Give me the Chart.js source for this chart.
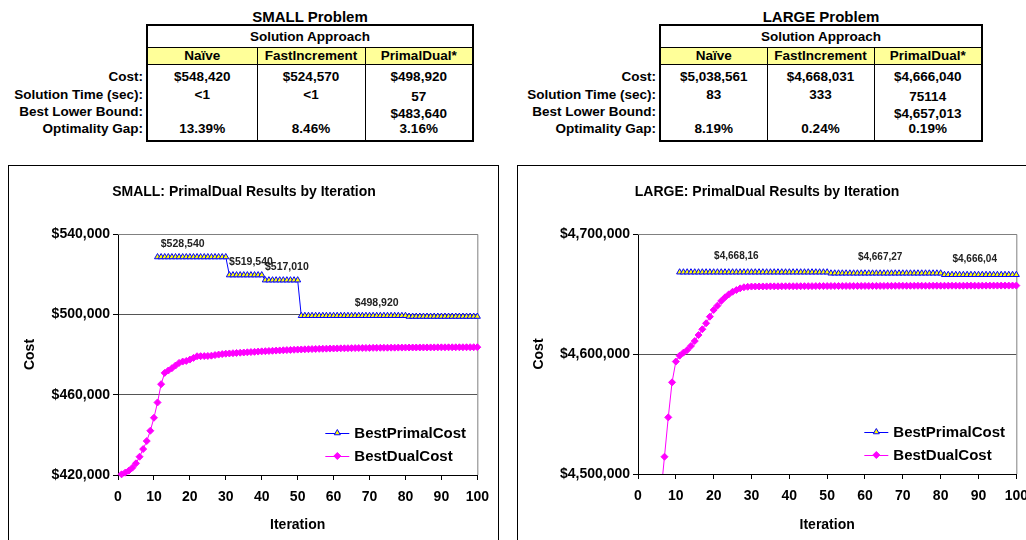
<!DOCTYPE html>
<html>
<head>
<meta charset="utf-8">
<script src="https://cdn.jsdelivr.net/npm/chart.js@4.4.1/dist/chart.umd.min.js"></script>
<style>
  html, body { margin: 0; padding: 0; background: #fff; overflow: hidden; }
  body { width: 1026px; height: 540px; position: relative; font-family: "Liberation Sans", Arial, sans-serif; color: #000; }
  .ttl { position: absolute; top: 8px; font-weight: bold; font-size: 15px; line-height: 18px; text-align: center; }
  table.ptab { position: absolute; top: 24px; border-collapse: collapse; table-layout: fixed; font-weight: bold; font-size: 13.5px; }
  table.ptab td { padding: 0; text-align: center; line-height: 16px; white-space: nowrap; }
  table.ptab td.lbl { text-align: right; padding-right: 3px; }
  table.ptab td.c { border-left: 1px solid #000; border-right: 1px solid #000; }
  table.ptab td.c1 { border-left: 2px solid #000; }
  table.ptab td.c3 { border-right: 2px solid #000; }
  table.ptab tr.appr td { height: 21px; }
  table.ptab tr.appr td.c { border-top: 2px solid #000; border-bottom: 1px solid #000; }
  table.ptab tr.hdr td { height: 16px; }
  table.ptab tr.hdr td.c { background: #ffff99; border-bottom: 1px solid #000; }
  table.ptab tr.r0 td { height: 20px; vertical-align: bottom; padding-bottom: 1px; }
  table.ptab tr.r1 td, table.ptab tr.r2 td { height: 17px; }
  table.ptab tr.r3 td { height: 19px; vertical-align: top; padding-top: 1px; }
  table.ptab tr.r3 td.c { border-bottom: 2px solid #000; }
  table.ptab span.dn { position: relative; top: 2px; }
  .frame { position: absolute; top: 165px; height: 400px; border: 1.5px solid #000; box-sizing: border-box; }
  canvas { position: absolute; top: 165px; }
</style>
</head>
<body>
<div class="ttl" style="left:147px;width:326px">SMALL Problem</div>
<div class="ttl" style="left:660px;width:322px">LARGE Problem</div>
<div id="tabSmall"></div>
<div id="tabLarge"></div>
<div class="frame" style="left:8px;width:491px"></div>
<div class="frame" style="left:517px;width:540px"></div>
<canvas id="cSmall" width="490" height="375" style="left:8px"></canvas>
<canvas id="cLarge" width="520" height="375" style="left:517px"></canvas>
<script>
/* ---- summary tables ---- */
const APPROACHES = ["Naïve", "FastIncrement", "PrimalDual*"];
const ROW_LABELS = ["Cost:", "Solution Time (sec):", "Best Lower Bound:", "Optimality Gap:"];
const SMALL_TABLE = [
  ["$548,420", "$524,570", "$498,920"],
  ["<1", "<1", "57"],
  ["", "", "$483,640"],
  ["13.39%", "8.46%", "3.16%"],
];
const LARGE_TABLE = [
  ["$5,038,561", "$4,668,031", "$4,666,040"],
  ["83", "333", "75114"],
  ["", "", "$4,657,013"],
  ["8.19%", "0.24%", "0.19%"],
];

/* ---- iteration charts ---- */
const ITER = [
  1, 2, 3, 4, 5, 6, 7, 8, 9, 10, 11, 12, 13, 14, 15, 16, 17, 18, 19, 20,
  21, 22, 23, 24, 25, 26, 27, 28, 29, 30, 31, 32, 33, 34, 35, 36, 37, 38, 39, 40,
  41, 42, 43, 44, 45, 46, 47, 48, 49, 50, 51, 52, 53, 54, 55, 56, 57, 58, 59, 60,
  61, 62, 63, 64, 65, 66, 67, 68, 69, 70, 71, 72, 73, 74, 75, 76, 77, 78, 79, 80,
  81, 82, 83, 84, 85, 86, 87, 88, 89, 90, 91, 92, 93, 94, 95, 96, 97, 98, 99, 100,
];
const SMALL_PRIMAL = [
  null, null, null, null, null, null, null, null, null, null,
  528540, 528540, 528540, 528540, 528540, 528540, 528540, 528540, 528540, 528540,
  528540, 528540, 528540, 528540, 528540, 528540, 528540, 528540, 528540, 528540,
  519540, 519540, 519540, 519540, 519540, 519540, 519540, 519540, 519540, 519540,
  517010, 517010, 517010, 517010, 517010, 517010, 517010, 517010, 517010, 517010,
  499300, 499300, 499300, 499300, 499300, 499300, 499300, 499300, 499300, 499300,
  499300, 499300, 499300, 499300, 499300, 499300, 499300, 499300, 499300, 499300,
  499300, 499300, 499300, 499300, 499300, 499300, 499300, 499300, 499300, 499300,
  498920, 498920, 498920, 498920, 498920, 498920, 498920, 498920, 498920, 498920,
  498920, 498920, 498920, 498920, 498920, 498920, 498920, 498920, 498920, 498920,
];
const SMALL_DUAL = [
  420330, 421160, 422150, 423640, 425800, 429100, 432900, 436900, 442030, 448490,
  456110, 465220, 470850, 472010, 473170, 474490, 475820, 476480, 476810, 477470,
  478300, 479130, 479170, 479200, 479260, 479420, 479700, 479960, 480200, 480400,
  480520, 480640, 480760, 480880, 480990, 481100, 481220, 481330, 481450, 481560,
  481660, 481750, 481850, 481940, 482030, 482110, 482200, 482280, 482360, 482440,
  482510, 482580, 482640, 482700, 482760, 482810, 482860, 482910, 482950, 482990,
  483030, 483070, 483100, 483130, 483160, 483190, 483220, 483240, 483260, 483280,
  483300, 483320, 483340, 483360, 483380, 483395, 483410, 483425, 483440, 483455,
  483470, 483480, 483490, 483500, 483510, 483520, 483530, 483540, 483550, 483560,
  483570, 483575, 483580, 483590, 483600, 483605, 483615, 483625, 483630, 483640,
];
const SMALL_LABEL_ITER = [18, 37, 47, 72];
const SMALL_LABEL_TEXT = ["$528,540", "$519,540", "$517,010", "$498,920"];

const LARGE_PRIMAL = [
  null, null, null, null, null, null, null, null, null, null,
  4668160, 4668160, 4668160, 4668160, 4668160, 4668160, 4668160, 4668160, 4668160, 4668160,
  4668160, 4668160, 4668160, 4668160, 4668160, 4668160, 4668160, 4668160, 4668160, 4668160,
  4668160, 4668160, 4668160, 4668160, 4668160, 4668160, 4668160, 4668160, 4668160, 4668160,
  4668160, 4668160, 4668160, 4668160, 4668160, 4668160, 4668160, 4668160, 4668160, 4668160,
  4667270, 4667270, 4667270, 4667270, 4667270, 4667270, 4667270, 4667270, 4667270, 4667270,
  4667270, 4667270, 4667270, 4667270, 4667270, 4667270, 4667270, 4667270, 4667270, 4667270,
  4667270, 4667270, 4667270, 4667270, 4667270, 4667270, 4667270, 4667270, 4667270, 4667270,
  4666040, 4666040, 4666040, 4666040, 4666040, 4666040, 4666040, 4666040, 4666040, 4666040,
  4666040, 4666040, 4666040, 4666040, 4666040, 4666040, 4666040, 4666040, 4666040, 4666040,
];
const LARGE_DUAL = [
  null, null, null, null, null, 4482000, 4514400, 4547200, 4576400, 4593700,
  4598600, 4601100, 4603300, 4606700, 4610800, 4615800, 4620600, 4625600, 4631100, 4636700,
  4640300, 4644200, 4647200, 4649700, 4651900, 4653300, 4654700, 4655600, 4656000, 4656200,
  4656250, 4656280, 4656310, 4656330, 4656360, 4656380, 4656400, 4656420, 4656440, 4656460,
  4656480, 4656500, 4656510, 4656530, 4656540, 4656560, 4656570, 4656590, 4656600, 4656610,
  4656630, 4656640, 4656650, 4656660, 4656670, 4656680, 4656690, 4656700, 4656710, 4656720,
  4656730, 4656740, 4656750, 4656760, 4656770, 4656780, 4656790, 4656800, 4656810, 4656820,
  4656830, 4656840, 4656845, 4656850, 4656860, 4656870, 4656875, 4656880, 4656890, 4656900,
  4656910, 4656915, 4656920, 4656930, 4656935, 4656940, 4656950, 4656955, 4656960, 4656965,
  4656970, 4656975, 4656980, 4656985, 4656990, 4656995, 4657000, 4657005, 4657010, 4657013,
];
const LARGE_LABEL_ITER = [26, 64, 89];
const LARGE_LABEL_TEXT = ["$4,668,16", "$4,667,27", "$4,666,04"];

/* ---- tables ---- */
const esc = s => s.replace(/&/g, "&amp;").replace(/</g, "&lt;");
function buildTable(host, left, widths, vals) {
  let h = `<table class="ptab" style="left:${left}px"><colgroup>` +
    widths.map(w => `<col style="width:${w}px">`).join("") + `</colgroup>`;
  h += `<tr class="appr"><td></td><td class="c c1 c3" colspan="3">Solution Approach</td></tr>`;
  h += `<tr class="hdr"><td></td>` +
    APPROACHES.map((a, i) => `<td class="c c${i + 1}">${esc(a)}</td>`).join("") + `</tr>`;
  ROW_LABELS.forEach((lab, r) => {
    h += `<tr class="r${r}"><td class="lbl">${esc(lab)}</td>` +
      vals[r].map((v, i) => {
        // PrimalDual time + bound sit a little low in the original sheet
        const t = (i === 2 && (r === 1 || r === 2)) ? `<span class="dn">${esc(v)}</span>` : esc(v);
        return `<td class="c c${i + 1}">${t}</td>`;
      }).join("") + `</tr>`;
  });
  host.innerHTML = h + `</table>`;
}
buildTable(document.getElementById("tabSmall"), 0, [147, 110, 108, 108], SMALL_TABLE);
buildTable(document.getElementById("tabLarge"), 500, [160, 107, 107, 108], LARGE_TABLE);

/* ---- chart plugins ---- */
const plotFrame = {
  id: "plotFrame",
  beforeDatasetsDraw(chart) {
    const { ctx, chartArea: a } = chart;
    ctx.save();
    ctx.strokeStyle = "#808080"; ctx.lineWidth = 1;
    ctx.beginPath();
    ctx.moveTo(a.left, a.top + 0.5); ctx.lineTo(a.right + 0.5, a.top + 0.5); ctx.lineTo(a.right + 0.5, a.bottom);
    ctx.stroke();
    ctx.restore();
  },
};
const pointLabels = {
  id: "pointLabels",
  afterDatasetsDraw(chart, args, o) {
    const { ctx, scales: { x, y } } = chart;
    const vals = chart.data.datasets[0].data;
    ctx.save();
    ctx.font = `bold ${o.size}px "Liberation Sans", Arial, sans-serif`;
    ctx.fillStyle = "#222"; ctx.textAlign = "center"; ctx.textBaseline = "middle";
    o.iters.forEach((it, i) => {
      const p = vals[it - 1];
      ctx.fillText(o.texts[i], x.getPixelForValue(p.x), y.getPixelForValue(p.y) - o.offset);
    });
    ctx.restore();
  },
};
const sampleLegend = {
  id: "sampleLegend",
  afterDraw(chart) {
    const { ctx, chartArea: a } = chart;
    ctx.save();
    chart.data.datasets.forEach((ds, i) => {
      const y = a.bottom - 42 + i * 23, x0 = a.right - 152;
      ctx.strokeStyle = ds.borderColor; ctx.lineWidth = 1;
      ctx.beginPath(); ctx.moveTo(x0, y + 0.5); ctx.lineTo(x0 + 24, y + 0.5); ctx.stroke();
      ctx.fillStyle = ds.pointBackgroundColor; ctx.strokeStyle = ds.pointBorderColor;
      Chart.helpers.drawPoint(ctx, { pointStyle: ds.pointStyle, radius: ds.pointRadius, rotation: 0, borderWidth: 1 }, x0 + 12, y);
      ctx.fillStyle = "#000";
      ctx.font = `bold 15px "Liberation Sans", Arial, sans-serif`;
      ctx.textAlign = "left"; ctx.textBaseline = "middle";
      ctx.fillText(ds.label, x0 + 29, y + 1);
    });
    ctx.restore();
  },
};

Chart.defaults.font.family = '"Liberation Sans", Arial, sans-serif';
Chart.defaults.color = "#000";

function iterChart(canvas, c) {
  const money = v => "$" + v.toLocaleString("en-US");
  return new Chart(canvas, {
    type: "line",
    data: {
      datasets: [
        { label: "BestPrimalCost", data: ITER.map((it, i) => ({ x: it, y: c.primal[i] })),
          borderColor: "#0000ff", borderWidth: 1, pointStyle: "triangle", pointRadius: 3.5,
          pointBackgroundColor: "#ffff00", pointBorderColor: "#0000ff", pointBorderWidth: 1,
          tension: 0, clip: { left: 5, top: 5, right: 6, bottom: c.clipBottom } },
        { label: "BestDualCost", data: ITER.map((it, i) => ({ x: it, y: c.dual[i] })),
          borderColor: "#ff00ff", borderWidth: 1, pointStyle: "rectRot", pointRadius: 3.5,
          pointBackgroundColor: "#ff00ff", pointBorderColor: "#ff00ff", pointBorderWidth: 1,
          tension: 0, clip: { left: 5, top: 5, right: 6, bottom: c.clipBottom } },
      ],
    },
    options: {
      responsive: false, animation: false,
      layout: { padding: { left: 0, right: c.padRight, top: 0, bottom: 0 } },
      plugins: {
        legend: { display: false }, tooltip: { enabled: false },
        title: { display: true, text: c.title, color: "#000", font: { size: 14, weight: "bold" },
                 padding: { top: 19, bottom: 33.2 } },
        pointLabels: { iters: c.labelIter, texts: c.labelText, size: c.labelSize, offset: c.labelOffset },
      },
      scales: {
        x: {
          type: "linear", min: 0, max: 100,
          afterFit: s => { s.height = c.xHeight; },
          ticks: { stepSize: 10, autoSkip: false, maxRotation: 0, padding: 9, color: "#000",
                   font: { size: 14, weight: "bold" } },
          grid: { drawOnChartArea: false, tickLength: 5, color: "#000" },
          border: { color: "#000", width: 1 },
          title: { display: true, text: "Iteration", color: "#000", font: { size: 14, weight: "bold" },
                   padding: { top: 0, bottom: 6.6 } },
        },
        y: {
          min: c.yMin, max: c.yMax,
          afterFit: s => { s.width = c.yWidth; },
          ticks: { stepSize: c.yStep, padding: 3, color: "#000", callback: money,
                   font: { size: 14, weight: "bold" } },
          grid: { color: "#555", tickColor: "#000", tickLength: 5 },
          border: { color: "#000", width: 1 },
          title: { display: true, text: "Cost", color: "#000", font: { size: 14, weight: "bold" },
                   padding: { top: 13.6, bottom: 0 } },
        },
      },
    },
    plugins: [plotFrame, pointLabels, sampleLegend],
  });
}

iterChart(document.getElementById("cSmall"), {
  title: "SMALL: PrimalDual Results by Iteration",
  primal: SMALL_PRIMAL, dual: SMALL_DUAL,
  yMin: 420000, yMax: 540000, yStep: 40000,
  yWidth: 110, padRight: 18, xHeight: 65, clipBottom: 4,
  labelIter: SMALL_LABEL_ITER, labelText: SMALL_LABEL_TEXT, labelSize: 10.5, labelOffset: 13,
});
iterChart(document.getElementById("cLarge"), {
  title: "LARGE: PrimalDual Results by Iteration",
  primal: LARGE_PRIMAL, dual: LARGE_DUAL,
  yMin: 4500000, yMax: 4700000, yStep: 100000,
  yWidth: 121, padRight: 20, xHeight: 66, clipBottom: 0,
  labelIter: LARGE_LABEL_ITER, labelText: LARGE_LABEL_TEXT, labelSize: 10, labelOffset: 16,
});
</script>
</body>
</html>
